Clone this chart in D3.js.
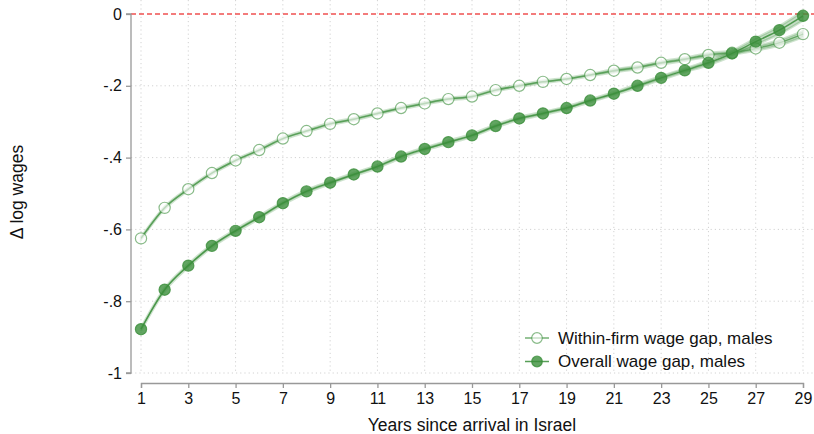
<!DOCTYPE html>
<html>
<head>
<meta charset="utf-8">
<script src="https://cdn.jsdelivr.net/npm/d3@7"></script>
<style>
  body { margin: 0; background: #fff; }
  svg { display: block; font-family: "Liberation Sans", Arial, Helvetica, sans-serif; }
</style>
</head>
<body>
<svg id="chart" width="814" height="434"></svg>
<script>
// Years since arrival
const years = d3.range(1, 30);

// Within-firm wage gap, males (log points)
const withinGap = [-0.625, -0.540, -0.488, -0.443, -0.408, -0.379, -0.347, -0.326, -0.306, -0.293,
  -0.277, -0.262, -0.249, -0.237, -0.230, -0.212, -0.200, -0.189, -0.181, -0.170,
  -0.158, -0.149, -0.136, -0.126, -0.114, -0.108, -0.096, -0.080, -0.056];

// Overall wage gap, males (log points)
const overallGap = [-0.878, -0.768, -0.701, -0.646, -0.604, -0.566, -0.527, -0.494, -0.470, -0.447,
  -0.425, -0.397, -0.376, -0.357, -0.338, -0.312, -0.291, -0.277, -0.262, -0.241,
  -0.222, -0.200, -0.178, -0.157, -0.136, -0.110, -0.077, -0.045, -0.005];

// Confidence band half-widths
const withinCI = [0.003, 0.003, 0.003, 0.003, 0.003, 0.003, 0.003, 0.003, 0.003, 0.003,
  0.003, 0.003, 0.003, 0.003, 0.003, 0.003, 0.003, 0.003, 0.003, 0.003,
  0.004, 0.004, 0.004, 0.004, 0.005, 0.005, 0.006, 0.007, 0.008];
const overallCI = [0.004, 0.004, 0.004, 0.004, 0.004, 0.004, 0.004, 0.004, 0.004, 0.004,
  0.004, 0.004, 0.004, 0.004, 0.004, 0.004, 0.004, 0.004, 0.004, 0.004,
  0.004, 0.005, 0.005, 0.005, 0.006, 0.007, 0.009, 0.011, 0.013];

const xTicks = d3.range(1, 30, 2);
const yTicks = [0, -0.2, -0.4, -0.6, -0.8, -1];
const yTickLabels = ["0", "-.2", "-.4", "-.6", "-.8", "-1"];

const seriesNames = ["Within-firm wage gap, males", "Overall wage gap, males"];

const svg = d3.select("#chart");
const W = 814;

const x = d3.scaleLinear().domain([1, 29]).range([141, 803]);
const y = d3.scaleLinear().domain([-1, 0]).range([373, 14]);

const plotLeft = 131, plotTop = 0, plotBottom = 373, axisY = 383;

// Grid
const grid = svg.append("g");
grid.selectAll("line.h").data(yTicks.slice(1)).join("line")
  .attr("x1", plotLeft).attr("x2", W)
  .attr("y1", d => y(d)).attr("y2", d => y(d))
  .attr("stroke", "#d2d2d2").attr("stroke-width", 1).attr("stroke-dasharray", "1.2,3");
grid.selectAll("line.v").data(xTicks).join("line")
  .attr("x1", d => x(d)).attr("x2", d => x(d))
  .attr("y1", plotTop).attr("y2", plotBottom)
  .attr("stroke", "#d2d2d2").attr("stroke-width", 1).attr("stroke-dasharray", "1.2,3");

// Zero reference line
svg.append("line")
  .attr("x1", plotLeft).attr("x2", W)
  .attr("y1", y(0)).attr("y2", y(0))
  .attr("stroke", "#f05050").attr("stroke-width", 1.6).attr("stroke-dasharray", "5,3");

// Y axis
const yAxis = svg.append("g").attr("transform", `translate(${plotLeft},0)`)
  .call(d3.axisLeft(y).tickValues(yTicks).tickSize(5).tickPadding(4)
    .tickFormat((d, i) => yTickLabels[i]));
yAxis.select(".domain").attr("stroke", "#999").attr("stroke-width", 1.3)
  .attr("d", `M-5,${y(0)}H0V${y(-1)}H-5`);
yAxis.selectAll(".tick line").attr("stroke", "#999").attr("stroke-width", 1.3);
yAxis.selectAll(".tick text").attr("font-size", 16).attr("fill", "#111");

// X axis
const xAxis = svg.append("g").attr("transform", `translate(0,${axisY})`)
  .call(d3.axisBottom(x).tickValues(xTicks).tickSize(5).tickPadding(5).tickFormat(d3.format("d")));
xAxis.select(".domain").attr("stroke", "#999").attr("stroke-width", 1.3);
xAxis.selectAll(".tick line").attr("stroke", "#999").attr("stroke-width", 1.3);
xAxis.selectAll(".tick text").attr("font-size", 16).attr("fill", "#111");

// Axis titles
svg.append("text").attr("x", 472).attr("y", 431).attr("text-anchor", "middle")
  .attr("font-size", 17.5).attr("fill", "#111").text("Years since arrival in Israel");
svg.append("text").attr("transform", "translate(23,192) rotate(-90)")
  .attr("text-anchor", "middle").attr("font-size", 17.5).attr("fill", "#111").text("Δ log wages");

// Series
const series = [
  { name: seriesNames[0], values: withinGap, ci: withinCI, filled: false },
  { name: seriesNames[1], values: overallGap, ci: overallCI, filled: true }
];
const green = "#3b8e3b";

const band = d3.area().x((d, i) => x(years[i]))
  .y0(d => y(d.v - d.c)).y1(d => y(d.v + d.c)).curve(d3.curveMonotoneX);
const line = d3.line().x((d, i) => x(years[i])).y(d => y(d)).curve(d3.curveMonotoneX);

series.forEach(s => {
  const g = svg.append("g");
  g.append("path").datum(s.values.map((v, i) => ({ v, c: s.ci[i] })))
    .attr("d", band).attr("fill", green).attr("fill-opacity", 0.3)
    .attr("stroke", green).attr("stroke-opacity", 0.25).attr("stroke-width", 2.5);
  g.append("path").datum(s.values).attr("d", line)
    .attr("fill", "none").attr("stroke", green)
    .attr("stroke-opacity", s.filled ? 0.85 : 0.7).attr("stroke-width", 1.5);
  g.selectAll("circle").data(s.values).join("circle")
    .attr("cx", (d, i) => x(years[i])).attr("cy", d => y(d)).attr("r", 5.6)
    .attr("fill", s.filled ? green : "#fff").attr("fill-opacity", s.filled ? 0.8 : 0.6)
    .attr("stroke", green).attr("stroke-opacity", s.filled ? 0.8 : 0.6).attr("stroke-width", 1.2);
});

// Legend
const legend = svg.append("g");
series.forEach((s, i) => {
  const ly = 338 + i * 23.5;
  legend.append("line").attr("x1", 525).attr("x2", 549).attr("y1", ly).attr("y2", ly)
    .attr("stroke", green).attr("stroke-opacity", s.filled ? 0.85 : 0.7).attr("stroke-width", 1.5);
  legend.append("circle").attr("cx", 537).attr("cy", ly).attr("r", 5.3)
    .attr("fill", s.filled ? green : "#fff").attr("fill-opacity", s.filled ? 0.8 : 0.6)
    .attr("stroke", green).attr("stroke-opacity", s.filled ? 0.8 : 0.6).attr("stroke-width", 1.2);
  legend.append("text").attr("x", 558).attr("y", ly).attr("dy", "0.35em")
    .attr("font-size", 17).attr("fill", "#111").text(s.name);
});
</script>
</body>
</html>
